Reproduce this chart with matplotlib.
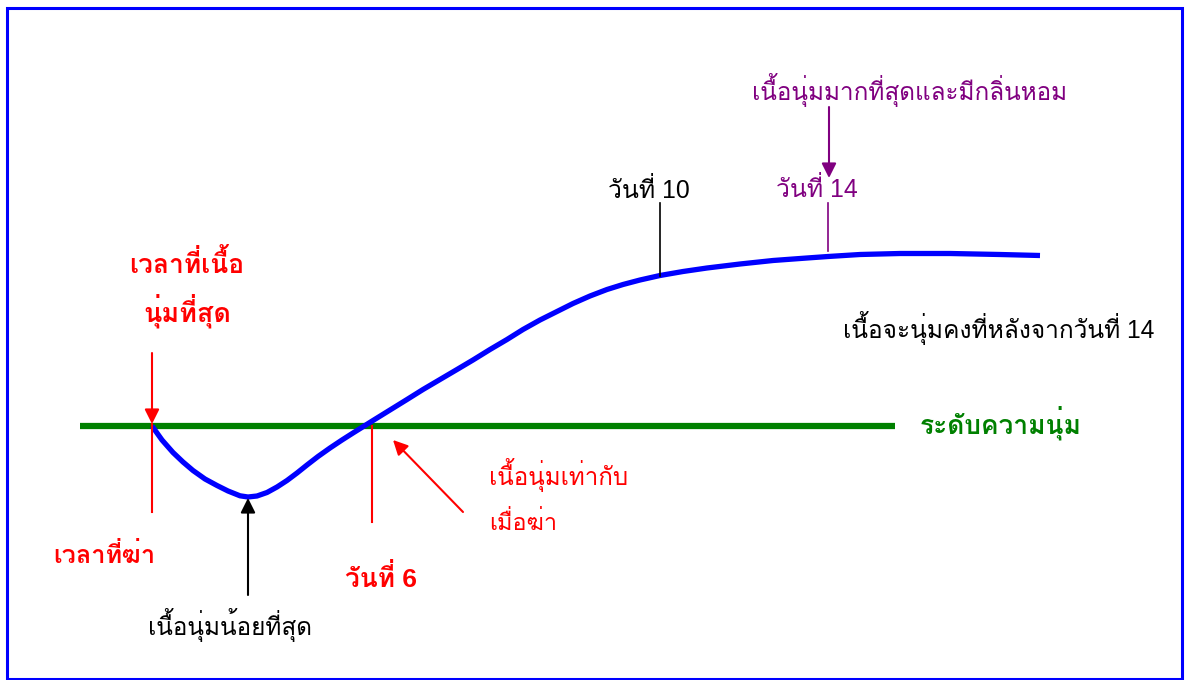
import matplotlib
matplotlib.use('Agg')
import matplotlib.pyplot as plt

THAI = ['Liberation Sans', 'Loma', 'DejaVu Sans']

# softness curve (x = position along time, y = softness, 0 = level at killing)
curve_x = [152, 162, 173, 183, 193, 205, 217, 228, 240, 248, 257, 267, 277, 287, 297,
           307, 318, 330, 342, 353, 365, 373, 390, 407, 423, 440, 457, 473, 490, 507,
           523, 540, 557, 573, 590, 607, 623, 640, 660, 683, 707, 740, 773, 807, 828,
           860, 900, 950, 1000, 1040]
curve_y = [0, -14, -26.5, -36, -44.5, -53, -59.5, -65, -69.8, -71, -70, -66.5, -61, -54.5, -47,
           -39, -30.5, -22, -14, -7, 0.5, 5.5, 16, 26.5, 36.5, 46.5, 56.5, 66, 76.5, 86.5,
           96.5, 106, 114.5, 122.5, 130, 136.5, 141.5, 146, 150.5, 154.5, 158, 162, 165.5, 168, 169.5,
           171.5, 172.5, 172.5, 171.5, 170.5]

level_x = [80, 895]   # softness level at killing
kill_x = 152
min_x, min_y = 248, -71
day6_x = 372
day10_x, day10_y = 660, 150
day14_x, day14_y = 828, 170

fig = plt.figure(figsize=(11.85, 6.8), dpi=100)
ax = fig.add_axes([0, 0, 1, 1])
ax.set_xlim(0, 1185)
ax.set_ylim(-254, 426)
ax.axis('off')

# frame
fig.patches.append(plt.Rectangle((7 / 1185, 1.5 / 680), 1175 / 1185, 671 / 680,
                                 transform=fig.transFigure, fill=False,
                                 edgecolor='#0000ff', lw=2.2))

ax.plot(level_x, [0, 0], color='#008000', lw=4.5, solid_capstyle='butt')
ax.plot(curve_x, curve_y, color='#0000ff', lw=3.8, solid_joinstyle='round',
        solid_capstyle='butt')

red = '#ff0000'
purple = '#800080'
ap = dict(arrowstyle='-|>', mutation_scale=22, shrinkA=0, shrinkB=0)

# time of killing
ax.annotate('', xy=(kill_x, 2), xytext=(kill_x, 73),
            arrowprops=dict(ap, color=red, lw=1.5))
ax.plot([kill_x, kill_x], [2, -86], color=red, lw=1.5)
# day 6
ax.plot([day6_x, day6_x], [0, -96], color=red, lw=1.5)
ax.annotate('', xy=(393, -14), xytext=(463, -86),
            arrowprops=dict(ap, color=red, lw=1.5))
# minimum
ax.annotate('', xy=(min_x, min_y - 1), xytext=(min_x, -169),
            arrowprops=dict(ap, color='black', lw=1.5))
# day 10 and 14
ax.plot([day10_x, day10_x], [day10_y, 223], color='black', lw=1.2)
ax.plot([day14_x, day14_x], [day14_y + 5, 223], color=purple, lw=1.2)
ax.annotate('', xy=(day14_x + 1, 248), xytext=(day14_x + 1, 319),
            arrowprops=dict(ap, color=purple, lw=1.5))

renderer = fig.canvas.get_renderer()


def label(x, y, s, width, ha='left', **kw):
    # size each label so it spans the same width as in the original
    t = ax.text(x, y, s, ha=ha, va='baseline', family=THAI, fontsize=18, **kw)
    bb = t.get_window_extent(renderer)
    t.set_fontsize(18 * width / bb.width)
    return t


label(187, 153, 'เวลาที่เนื้อ', 115, ha='center', color=red, weight='bold')
label(187, 104, 'นุ่มที่สุด', 88, ha='center', color=red, weight='bold')
label(53, -137, 'เวลาที่ฆ่า', 102, color=red, weight='bold')
label(345, -161, 'วันที่ 6', 72, color=red, weight='bold')
label(148, -209, 'เนื้อนุ่มน้อยที่สุด', 164, color='black')
label(489, -59, 'เนื้อนุ่มเท่ากับ', 139, color=red)
label(489, -104, 'เมื่อฆ่า', 68, color=red)
label(920, -7, 'ระดับความนุ่ม', 162, color='#008000', weight='bold')
label(843, 88, 'เนื้อจะนุ่มคงที่หลังจากวันที่ 14', 312, color='black')
label(608, 228, 'วันที่ 10', 82, color='black')
label(776, 229, 'วันที่ 14', 82, color=purple)
label(752, 326, 'เนื้อนุ่มมากที่สุดและมีกลิ่นหอม', 315, color=purple)

fig.savefig('out.png', dpi=100)
